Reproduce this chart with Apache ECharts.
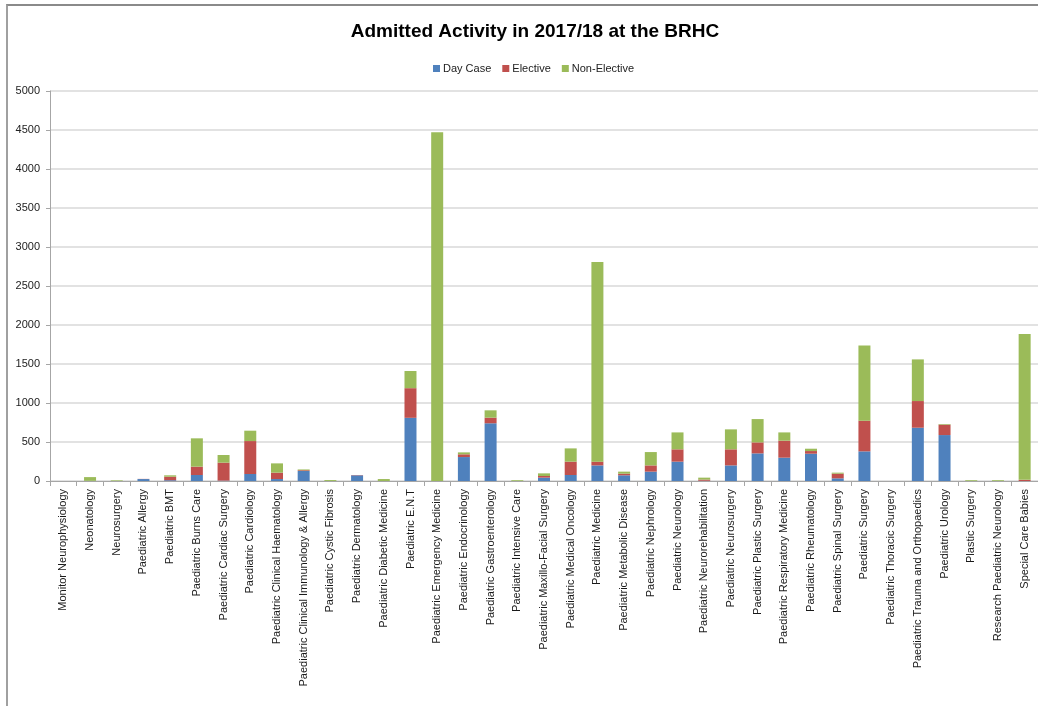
<!DOCTYPE html>
<html>
<head>
<meta charset="utf-8">
<script src="https://cdn.jsdelivr.net/npm/echarts@6/dist/echarts.min.js"></script>
<style>
html,body{margin:0;padding:0;background:#fff;}
#frame{position:absolute;left:6px;top:4px;width:1032px;height:702px;border-top:2px solid #8a8a8a;border-left:2px solid #a0a0a0;box-sizing:border-box;}
#chart{position:absolute;left:0;top:0;width:1038px;height:706px;}
</style>
</head>
<body>
<div id="chart"></div>
<div id="frame"></div>
<script>
var categories = ["Monitor Neurophysiology","Neonatology","Neurosurgery","Paediatric Allergy","Paediatric BMT","Paediatric Burns Care","Paediatric Cardiac Surgery","Paediatric Cardiology","Paediatric Clinical Haematology","Paediatric Clinical Immunology & Allergy","Paediatric Cystic Fibrosis","Paediatric Dermatology","Paediatric Diabetic Medicine","Paediatric E.N.T","Paediatric Emergency Medicine","Paediatric Endocrinology","Paediatric Gastroenterology","Paediatric Intensive Care","Paediatric Maxillo-Facial Surgery","Paediatric Medical Oncology","Paediatric Medicine","Paediatric Metabolic Disease","Paediatric Nephrology","Paediatric Neurology","Paediatric Neurorehabilitation","Paediatric Neurosurgery","Paediatric Plastic Surgery","Paediatric Respiratory Medicine","Paediatric Rheumatology","Paediatric Spinal Surgery","Paediatric Surgery","Paediatric Thoracic Surgery","Paediatric Trauma and Orthopaedics","Paediatric Urology","Plastic Surgery","Research Paediatric Neurology","Special Care Babies"];
var dayCase =     [0, 2, 0, 25, 10, 77, 5, 90, 25, 128, 0, 73, 0, 810, 0, 307, 740, 0, 43, 77, 200, 73, 120, 248, 3, 200, 354, 299, 350, 34, 380, 0, 683, 589, 0, 0, 0];
var elective =    [0, 0, 0, 2, 45, 107, 230, 422, 82, 10, 0, 4, 0, 380, 0, 35, 72, 0, 21, 171, 48, 21, 80, 158, 15, 206, 141, 218, 34, 60, 393, 0, 342, 133, 0, 0, 15];
var nonElective = [0, 48, 8, 0, 18, 363, 98, 133, 119, 10, 12, 0, 25, 220, 4470, 25, 94, 10, 34, 170, 2560, 26, 171, 217, 25, 256, 299, 106, 30, 13, 965, 0, 534, 8, 10, 10, 1870];
var yTicks = [0, 500, 1000, 1500, 2000, 2500, 3000, 3500, 4000, 4500, 5000];

var chart = echarts.init(document.getElementById('chart'), null, {renderer:'canvas'});
var font = 'Liberation Sans';
function mk(name, data, color){
  return {name:name, type:'bar', stack:'total', data:data, barWidth:12,
    itemStyle:{color:color}, emphasis:{disabled:true}};
}
chart.setOption({
  animation:false,
  backgroundColor:'#fff',
  title:{text:'Admitted Activity in 2017/18 at the BRHC', left:530, textAlign:'center', top:17,
    textStyle:{fontFamily:font, fontSize:19, fontWeight:'bold', color:'#000'}},
  legend:{top:58, left:428, itemWidth:7, itemHeight:7, itemGap:11,
    icon:'rect', textStyle:{fontFamily:font, fontSize:11, color:'#222', padding:[0,0,0,-2]},
    data:['Day Case','Elective','Non-Elective']},
  grid:{left:50, top:91, right:-1, bottom:225, containLabel:false},
  xAxis:{type:'category', data:categories,
    axisLine:{lineStyle:{color:'#a6a6a6', width:1}},
    axisTick:{show:true, length:5, lineStyle:{color:'#a6a6a6'}},
    axisLabel:{rotate:90, interval:0, margin:8, fontFamily:font, fontSize:11, color:'#1a1a1a'}},
  yAxis:{type:'value', min:yTicks[0], max:yTicks[yTicks.length-1], interval:500,
    axisLine:{show:true, lineStyle:{color:'#a6a6a6'}},
    axisTick:{show:true, length:4, lineStyle:{color:'#a6a6a6'}},
    axisLabel:{margin:10, fontFamily:font, fontSize:11, color:'#222', formatter:function(v){return String(v);}},
    splitLine:{lineStyle:{color:'#d9d9d9', width:1.5}}},
  series:[mk('Day Case', dayCase, '#4F81BD'), mk('Elective', elective, '#C0504D'), mk('Non-Elective', nonElective, '#9BBB59')]
});
</script>
</body>
</html>
